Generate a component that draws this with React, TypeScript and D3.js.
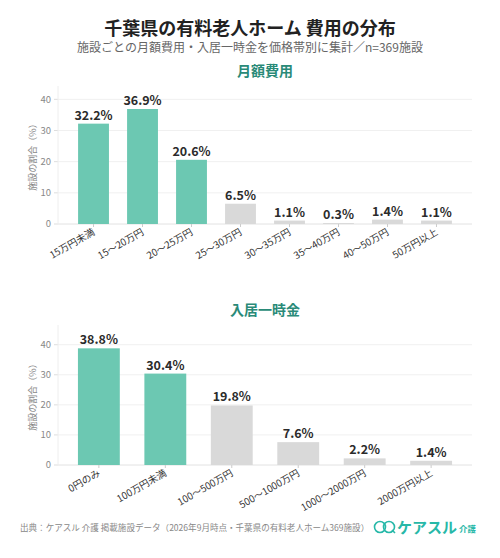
import React from "react";
import * as d3 from "d3";

const monthlyCats = ["15万円未満", "15～20万円", "20～25万円", "25～30万円", "30～35万円", "35～40万円", "40～50万円", "50万円以上"];
const monthlyVals = [32.2, 36.9, 20.6, 6.5, 1.1, 0.3, 1.4, 1.1];
const monthlyHighlight = [true, true, true, false, false, false, false, false];

const entryCats = ["0円のみ", "100万円未満", "100～500万円", "500～1000万円", "1000～2000万円", "2000万円以上"];
const entryVals = [38.8, 30.4, 19.8, 7.6, 2.2, 1.4];
const entryHighlight = [true, true, false, false, false, false];

const yTicks = [0, 10, 20, 30, 40];

const FONT = "'Noto Sans CJK JP', 'Noto Sans', sans-serif";
const TEAL = "#6cc8b2";
const GRAY = "#d9d9d9";

type PanelProps = {
  title: string;
  cats: string[];
  vals: number[];
  hi: boolean[];
  top: number;
  bottom: number;
  outer: number;
};

function Panel({ title, cats, vals, hi, top, bottom, outer }: PanelProps) {
  const left = 58;
  const right = 472;
  const maxV = (d3.max(vals) as number) * 1.2;
  const y = d3.scaleLinear().domain([0, maxV]).range([bottom, top]);
  const x = d3.scaleBand<string>().domain(cats).range([left, right]).paddingInner(0.37).paddingOuter(outer);
  return (
    <g>
      <text x={(left + right) / 2} y={top - 10} textAnchor="middle" fontSize={14} fontWeight="bold" fill="#2a8a78" fontFamily={FONT}>
        {title}
      </text>
      {yTicks.map((t) => (
        <g key={t}>
          <line x1={left} x2={right} y1={y(t)} y2={y(t)} stroke={t === 0 ? "#e2e2e2" : "#f0f0f0"} strokeWidth={1} />
          <line x1={left - 4} x2={left} y1={y(t)} y2={y(t)} stroke="#ddd" />
          <text x={left - 7} y={y(t)} dy="0.35em" textAnchor="end" fontSize={9.5} fill="#888" fontFamily={FONT}>
            {t}
          </text>
        </g>
      ))}
      <line x1={left} x2={left} y1={top} y2={bottom} stroke="#eee" />
      <text
        transform={`translate(${36},${(top + bottom) / 2}) rotate(-90)`}
        textAnchor="middle"
        fontSize={9}
        fill="#888"
        fontFamily={FONT}
      >
        施設の割合（%）
      </text>
      {cats.map((c, i) => {
        const bx = x(c) as number;
        const bw = x.bandwidth();
        const cx = bx + bw / 2;
        return (
          <g key={c}>
            <rect x={bx} y={y(vals[i])} width={bw} height={bottom - y(vals[i])} fill={hi[i] ? TEAL : GRAY} />
            <text x={cx} y={y(vals[i]) - 4} textAnchor="middle" fontSize={12.5} fontWeight="bold" fill="#2b2b2b" fontFamily={FONT}>
              {vals[i].toFixed(1)}%
            </text>
            <line x1={cx} x2={cx} y1={bottom} y2={bottom + 3} stroke="#ccc" />
            <text
              transform={`translate(${cx + 2},${bottom + 10}) rotate(-30)`}
              textAnchor="end"
              fontSize={9.8}
              fill="#333"
              fontFamily={FONT}
            >
              {c}
            </text>
          </g>
        );
      })}
    </g>
  );
}

export default function App() {
  return (
    <svg width={500} height={558} style={{ display: "block", position: "absolute", left: 0, top: 0, background: "#fff" }}>
      <rect width={500} height={558} fill="#fff" />
      <text x={250} y={35} textAnchor="middle" fontSize={18} fontWeight="bold" fill="#222" fontFamily={FONT}>
        千葉県の有料老人ホーム 費用の分布
      </text>
      <text x={250} y={52} textAnchor="middle" fontSize={12} fill="#666" fontFamily={FONT}>
        施設ごとの月額費用・入居一時金を価格帯別に集計／n=369施設
      </text>
      <Panel title="月額費用" cats={monthlyCats} vals={monthlyVals} hi={monthlyHighlight} top={86} bottom={224} outer={0.41} />
      <Panel title="入居一時金" cats={entryCats} vals={entryVals} hi={entryHighlight} top={325} bottom={465} outer={0.3} />
      <text x={20} y={531} fontSize={8.55} fill="#888" fontFamily={FONT}>
        出典：ケアスル 介護 掲載施設データ（2026年9月時点・千葉県の有料老人ホーム369施設）
      </text>
      <g>
        <circle cx={380} cy={527} r={5.5} fill="none" stroke="#27b8a8" strokeWidth={1.6} />
        <circle cx={389} cy={527} r={5.5} fill="none" stroke="#27b8a8" strokeWidth={1.6} />
        <line x1={392} y1={530} x2={395} y2={533} stroke="#27b8a8" strokeWidth={1.6} />
        <text x={397} y={533} fontSize={15} fontWeight="bold" fill="#27b8a8" fontFamily={FONT}>
          ケアスル
        </text>
        <text x={459} y={532} fontSize={8.5} fontWeight="bold" fill="#27b8a8" fontFamily={FONT}>
          介護
        </text>
      </g>
    </svg>
  );
}
